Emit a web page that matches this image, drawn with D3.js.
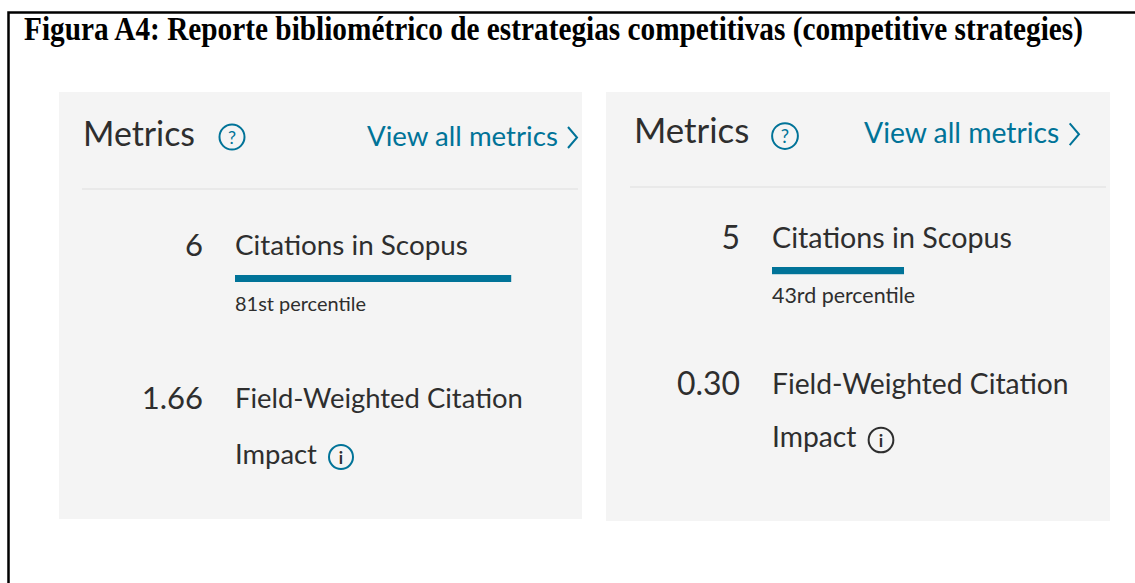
<!DOCTYPE html>
<html>
<head>
<meta charset="utf-8">
<script src="https://cdn.jsdelivr.net/npm/d3@7"></script>
<style>
  html, body { margin: 0; padding: 0; background: #fff; }
  svg { display: block; }
</style>
</head>
<body>
<div id="chart"></div>
<script>
const WIDTH = 1135;
const HEIGHT = 583;

const TITLE = "Figura A4: Reporte bibliométrico de estrategias competitivas (competitive strategies)";

const citations = [6, 5];
const percentiles = [81, 43];
const percentileLabels = ["81st percentile", "43rd percentile"];
const fwci = [1.66, 0.30];

const TEXT_COLOR = '#2e2e2e';
const TEAL = '#007398';
const PANEL_BG = '#f4f4f4';

// where each card sits (the two screenshots are at slightly different scales)
const layout = [
    {x: 59, y: 92, w: 523, h: 427, k: 1.0,
     metricsX: 83, headY: 146, helpX: 232, helpY: 137, viewX: 367, viewEnd: 578,
     sepY: 189, sepX0: 82, sepX1: 578,
     numEnd: 203, labelX: 235, citeY: 255, barY: 275, barFull: 341, pctY: 311,
     fwciY: 409, impactY: 464, infoX: 341, infoY: 457, infoColor: TEAL},
    {x: 606, y: 92, w: 504, h: 429, k: 1.03,
     metricsX: 634, headY: 143, helpX: 785, helpY: 136, viewX: 864, viewEnd: 1080,
     sepY: 187, sepX0: 630, sepX1: 1106,
     numEnd: 740, labelX: 772, citeY: 248, barY: 267, barFull: 307, pctY: 303,
     fwciY: 395, impactY: 447, infoX: 881, infoY: 440, infoColor: TEXT_COLOR}
];

const svg = d3.select('#chart')
    .append('svg')
    .attr('width', WIDTH)
    .attr('height', HEIGHT);

// fit text to a width measured on the picture
function fit(sel, targetWidth){
    const fs = parseFloat(sel.attr('font-size'));
    const len = sel.node().getComputedTextLength();
    sel.attr('font-size', fs * targetWidth / len);
    return sel;
}

// frame + title
svg.append('path')
    .attr('d', `M8.5,${HEIGHT + 5} L8.5,12.5 L${WIDTH + 5},12.5`)
    .attr('fill', 'none')
    .attr('stroke', '#000')
    .attr('stroke-width', 2.5);

fit(svg.append('text')
    .attr('transform', 'translate(24,40) scale(1,1.14)')
    .attr('font-family', '"Liberation Serif", "Times New Roman", serif')
    .attr('font-weight', 'bold')
    .attr('font-size', 28)
    .attr('fill', '#000')
    .text(TITLE), 1059);

const fmt = d3.format('.2f');

layout.forEach((L, i) => {
    const g = svg.append('g').attr('class', 'card');
    const k = L.k;
    const font = 'Lato, "Open Sans", sans-serif';

    g.append('rect')
        .attr('x', L.x).attr('y', L.y)
        .attr('width', L.w).attr('height', L.h)
        .attr('fill', PANEL_BG);

    // header
    fit(g.append('text')
        .attr('x', L.metricsX).attr('y', L.headY)
        .attr('font-family', font).attr('font-size', 32)
        .attr('fill', TEXT_COLOR)
        .text('Metrics'), 112 * k);

    g.append('circle')
        .attr('cx', L.helpX).attr('cy', L.helpY).attr('r', 12.5 * k)
        .attr('fill', 'none').attr('stroke', TEAL).attr('stroke-width', 2);
    g.append('text')
        .attr('x', L.helpX).attr('y', L.helpY + 6.5 * k)
        .attr('text-anchor', 'middle')
        .attr('font-family', font)
        .attr('font-size', 18 * k)
        .attr('fill', TEAL)
        .text('?');

    fit(g.append('text')
        .attr('x', L.viewX).attr('y', L.headY)
        .attr('font-family', font).attr('font-size', 26)
        .attr('fill', TEAL)
        .text('View all metrics'), (L.viewEnd - L.viewX) - 20 * k);
    const chevX = L.viewEnd - 10 * k;
    g.append('path')
        .attr('d', `M${chevX},${L.headY - 19 * k} L${chevX + 9 * k},${L.headY - 8.5 * k} L${chevX},${L.headY + 2 * k}`)
        .attr('fill', 'none').attr('stroke', TEAL).attr('stroke-width', 2);

    g.append('line')
        .attr('x1', L.sepX0).attr('x2', L.sepX1)
        .attr('y1', L.sepY).attr('y2', L.sepY)
        .attr('stroke', '#e6e6e6').attr('stroke-width', 1.5);

    // citations
    g.append('text')
        .attr('x', L.numEnd).attr('y', L.citeY + 1)
        .attr('text-anchor', 'end')
        .attr('font-family', font).attr('font-size', 31 * k)
        .attr('fill', TEXT_COLOR)
        .text(citations[i]);

    fit(g.append('text')
        .attr('x', L.labelX).attr('y', L.citeY)
        .attr('font-family', font).attr('font-size', 28)
        .attr('fill', TEXT_COLOR)
        .text('Citations in Scopus'), 233 * k);

    const x = d3.scaleLinear()
        .domain([0, 100])
        .range([L.labelX, L.labelX + L.barFull]);

    g.append('rect')
        .attr('x', x(0)).attr('y', L.barY)
        .attr('width', x(percentiles[i]) - x(0))
        .attr('height', 7 * k)
        .attr('fill', TEAL);

    fit(g.append('text')
        .attr('x', L.labelX).attr('y', L.pctY)
        .attr('font-family', font).attr('font-size', 17)
        .attr('fill', TEXT_COLOR)
        .text(percentileLabels[i]), 131 * k * (i === 0 ? 1 : 1.06));

    // field-weighted citation impact
    g.append('text')
        .attr('x', L.numEnd).attr('y', L.fwciY)
        .attr('text-anchor', 'end')
        .attr('font-family', font).attr('font-size', 31 * k)
        .attr('fill', TEXT_COLOR)
        .text(fmt(fwci[i]));

    const field = fit(g.append('text')
        .attr('x', L.labelX).attr('y', L.fwciY - 1)
        .attr('font-family', font).attr('font-size', 28)
        .attr('fill', TEXT_COLOR)
        .text('Field-Weighted Citation'), 288 * k);

    g.append('text')
        .attr('x', L.labelX).attr('y', L.impactY)
        .attr('font-family', font).attr('font-size', field.attr('font-size'))
        .attr('fill', TEXT_COLOR)
        .text('Impact');

    g.append('circle')
        .attr('cx', L.infoX).attr('cy', L.infoY).attr('r', 12 * k)
        .attr('fill', 'none').attr('stroke', L.infoColor).attr('stroke-width', 2);
    g.append('text')
        .attr('x', L.infoX).attr('y', L.infoY + 6.5 * k)
        .attr('text-anchor', 'middle')
        .attr('font-family', font).attr('font-weight', 'bold')
        .attr('font-size', 17 * k)
        .attr('fill', TEXT_COLOR)
        .text('i');
});
</script>
</body>
</html>
